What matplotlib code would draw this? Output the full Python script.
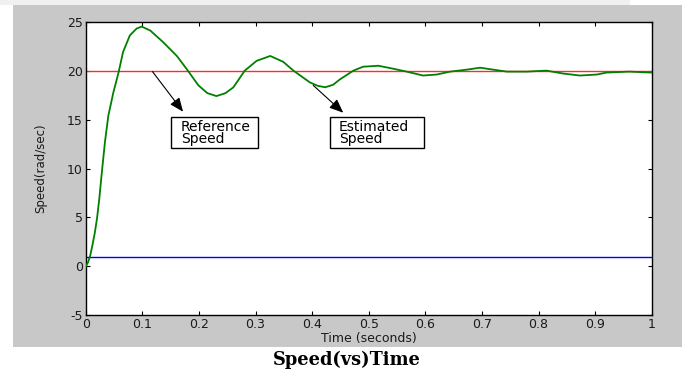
import matplotlib
matplotlib.use("Agg")
import matplotlib.pyplot as plt
from matplotlib.patches import Rectangle

# ---- data ----
time_s = [0, 0.004, 0.008, 0.012, 0.016, 0.020, 0.024, 0.028, 0.034, 0.040,
          0.049, 0.058, 0.066, 0.078, 0.090, 0.099, 0.114, 0.137, 0.161, 0.178,
          0.199, 0.215, 0.231, 0.247, 0.261, 0.281, 0.302, 0.326, 0.349, 0.367,
          0.396, 0.410, 0.423, 0.437, 0.449, 0.461, 0.473, 0.490, 0.517, 0.543,
          0.567, 0.596, 0.620, 0.644, 0.673, 0.697, 0.720, 0.744, 0.779, 0.814,
          0.844, 0.873, 0.903, 0.920, 0.960, 1.0]
est_speed = [0, 0.4, 1.1, 2.2, 3.4, 4.9, 6.9, 9.3, 12.7, 15.4,
             17.8, 19.8, 21.9, 23.6, 24.3, 24.5, 24.1, 22.9, 21.5, 20.2,
             18.5, 17.7, 17.4, 17.7, 18.3, 20.0, 21.0, 21.5, 20.9, 20.0,
             18.8, 18.45, 18.3, 18.55, 19.1, 19.55, 20.0, 20.4, 20.5, 20.2,
             19.9, 19.5, 19.6, 19.9, 20.1, 20.3, 20.1, 19.9, 19.9, 20.0,
             19.7, 19.5, 19.6, 19.8, 19.9, 19.8]
ref_speed = 20
low_level = 1
x_ticks = [0, 0.1, 0.2, 0.3, 0.4, 0.5, 0.6, 0.7, 0.8, 0.9, 1]
x_tick_labels = ["0", "0.1", "0.2", "0.3", "0.4", "0.5", "0.6", "0.7", "0.8", "0.9", "1"]
y_ticks = [-5, 0, 5, 10, 15, 20, 25]
y_tick_labels = ["-5", "0", "5", "10", "15", "20", "25"]

W, H = 687, 376
fig = plt.figure(figsize=(W / 100, H / 100), dpi=100)
fig.patch.set_facecolor("white")

# background panels (figure-pixel based)
fig.patches.append(Rectangle((0, 1 - 5 / H), 630 / W, 5 / H, transform=fig.transFigure,
                             facecolor="#f0f0f0", edgecolor="none", zorder=-5))
fig.patches.append(Rectangle((13 / W, 1 - 347 / H), (682 - 13) / W, (347 - 5) / H,
                             transform=fig.transFigure, facecolor="#c8c8c8",
                             edgecolor="none", zorder=-5))

ax = fig.add_axes([85.7 / W, 1 - 315.3 / H, (651.7 - 85.7) / W, (315.3 - 21.7) / H])
ax.set_zorder(1)
ax.set_facecolor("white")

ax.plot([0, 1], [ref_speed, ref_speed], color="#ff2a2a", lw=1.0, zorder=2)
ax.plot([0, 1], [low_level, low_level], color="#0000ff", lw=1.0, zorder=2)
ax.plot(time_s, est_speed, color="#008000", lw=1.3, zorder=3)

ax.set_xlim(0, 1)
ax.set_ylim(-5, 25)
ax.set_xticks(x_ticks)
ax.set_xticklabels(x_tick_labels)
ax.set_yticks(y_ticks)
ax.set_yticklabels(y_tick_labels)

for lab in ax.get_xticklabels() + ax.get_yticklabels():
    lab.set_fontfamily("DejaVu Sans")
    lab.set_fontsize(9)
    lab.set_color("#1a1a1a")
ax.tick_params(direction="in", length=3, width=0.8, top=True, right=True,
               pad=2)
for sp in ax.spines.values():
    sp.set_linewidth(1.0)
    sp.set_color("black")

ax.set_xlabel("Time (seconds)", fontfamily="DejaVu Sans", fontsize=9, labelpad=1,
              color="#1a1a1a")
ax.set_ylabel("Speed(rad/sec)", fontfamily="DejaVu Sans", fontsize=8.5, labelpad=14,
              color="#1a1a1a")

# annotation boxes
ax.add_patch(Rectangle((0.151, 12.14), 0.153, 3.14, facecolor="white",
                       edgecolor="black", lw=1.0, zorder=4))
ax.text(0.168, 13.6, "Reference\nSpeed", fontfamily="DejaVu Sans", fontsize=10,
        va="center", ha="left", linespacing=0.85, zorder=5)
ax.add_patch(Rectangle((0.432, 12.08), 0.166, 3.2, facecolor="white",
                       edgecolor="black", lw=1.0, zorder=4))
ax.text(0.447, 13.6, "Estimated\nSpeed", fontfamily="DejaVu Sans", fontsize=10,
        va="center", ha="left", linespacing=0.85, zorder=5)

arrow_kw = dict(arrowstyle="-|>,head_length=0.6,head_width=0.25", color="black",
                lw=0.8, mutation_scale=14, shrinkA=0, shrinkB=0)
ax.annotate("", xy=(0.172, 15.8), xytext=(0.118, 19.9), arrowprops=arrow_kw, zorder=5)
ax.annotate("", xy=(0.455, 15.7), xytext=(0.402, 18.5), arrowprops=arrow_kw, zorder=5)

fig.text(347 / W, 1 - 360 / H, "Speed(vs)Time", fontfamily="DejaVu Serif",
         fontweight="bold", fontsize=12.8, ha="center", va="center", color="black")

fig.savefig("out.png", dpi=100, facecolor=fig.get_facecolor())
